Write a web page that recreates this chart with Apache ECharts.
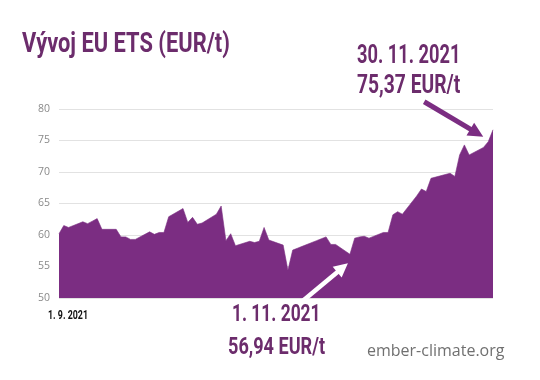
<!DOCTYPE html>
<html>
<head>
<meta charset="utf-8">
<script src="https://cdn.jsdelivr.net/npm/echarts@6/dist/echarts.min.js"></script>
<style>html,body{margin:0;padding:0;background:#fff;}#c{width:540px;height:380px;}</style>
</head>
<body>
<div id="c"></div>
<script>
// Trading days, 1. 9. 2021 – 1. 12. 2021
const dates = [
 '2021-09-01','2021-09-02','2021-09-03','2021-09-06','2021-09-07','2021-09-08','2021-09-09','2021-09-10',
 '2021-09-13','2021-09-14','2021-09-15','2021-09-16','2021-09-17','2021-09-20','2021-09-21','2021-09-22',
 '2021-09-23','2021-09-24','2021-09-27','2021-09-28','2021-09-29','2021-09-30','2021-10-01','2021-10-04',
 '2021-10-05','2021-10-06','2021-10-07','2021-10-08','2021-10-11','2021-10-12','2021-10-13','2021-10-14',
 '2021-10-15','2021-10-18','2021-10-19','2021-10-20','2021-10-21','2021-10-22','2021-10-25','2021-10-26',
 '2021-10-27','2021-10-28','2021-10-29','2021-11-01','2021-11-02','2021-11-03','2021-11-04','2021-11-05',
 '2021-11-08','2021-11-09','2021-11-10','2021-11-11','2021-11-12','2021-11-15','2021-11-16','2021-11-17',
 '2021-11-18','2021-11-19','2021-11-22','2021-11-23','2021-11-24','2021-11-25','2021-11-26','2021-11-29',
 '2021-11-30','2021-12-01'
];
// EU ETS price, EUR/t
const prices = [
 60.2, 61.5, 61.2, 62.1, 61.8, 62.2, 62.6, 60.9,
 60.9, 59.7, 59.7, 59.3, 59.3, 60.5, 60.1, 60.4,
 60.4, 62.9, 64.2, 62.0, 62.8, 61.7, 61.9, 63.3,
 64.6, 59.1, 60.2, 58.3, 59.0, 58.8, 59.0, 61.2,
 59.2, 58.4, 54.4, 57.6, 57.9, 58.2, 59.1, 59.4,
 59.7, 58.5, 58.5, 56.94, 59.5, 59.7, 59.8, 59.5,
 60.4, 60.4, 63.2, 63.7, 63.3, 66.2, 67.3, 66.9,
 69.0, 69.2, 69.8, 69.3, 72.7, 74.3, 72.7, 73.9,
 74.8, 76.7
];
const yTicks = [50, 55, 60, 65, 70, 75, 80];
const titleText = 'Vývoj EU ETS (EUR/t)';
const startLabel = '1. 9. 2021';
const lowDate = '1. 11. 2021', lowValue = '56,94 EUR/t';
const highDate = '30. 11. 2021', highValue = '75,37 EUR/t';
const sourceText = 'ember-climate.org';
const lowIndex = 43, highIndex = 64;

const PURPLE = '#7b2d82';
const TEXT_PURPLE = '#6c2c6c';

const chart = echarts.init(document.getElementById('c'), null, {renderer: 'canvas'});
chart.setOption({
  animation: false,
  backgroundColor: '#ffffff',
  grid: {left: 59, right: 47, top: 109, bottom: 82},
  xAxis: {
    type: 'time',
    min: dates[0],
    max: dates[dates.length - 1],
    axisLine: {show: false}, axisTick: {show: false},
    axisLabel: {show: false}, splitLine: {show: false}
  },
  yAxis: {
    type: 'value',
    min: yTicks[0], max: yTicks[yTicks.length - 1], interval: 5,
    axisLine: {show: false}, axisTick: {show: false},
    axisLabel: {color: '#8a8a8a', fontSize: 10.5, fontFamily: 'Open Sans', margin: 9},
    splitLine: {lineStyle: {color: '#e2e2e2', width: 1.2}}
  },
  series: [{
    type: 'line',
    data: dates.map((d, i) => [d, prices[i]]),
    showSymbol: false,
    symbol: 'none',
    lineStyle: {width: 0.6, color: PURPLE},
    areaStyle: {color: PURPLE, opacity: 1, origin: 'start'}
  }]
});

function txt(x, y, text, fs, color, weight, sx, family) {
  return {
    type: 'text', x: x, y: y, scaleX: sx, originX: 0, originY: 0, z: 100,
    style: {text: text, fontSize: fs, fontWeight: weight, fill: color,
            fontFamily: family || 'Roboto', textAlign: 'left', textVerticalAlign: 'middle'}
  };
}
function arrow(tip, tail, color, w, headLen, headW) {
  const dx = tip[0] - tail[0], dy = tip[1] - tail[1];
  const L = Math.sqrt(dx * dx + dy * dy), ux = dx / L, uy = dy / L;
  const bx = tip[0] - ux * headLen, by = tip[1] - uy * headLen;
  const px = -uy, py = ux;
  return [
    {type: 'line', z: 100, shape: {x1: tail[0], y1: tail[1], x2: bx + ux * 2, y2: by + uy * 2},
     style: {stroke: color, lineWidth: w}},
    {type: 'polygon', z: 100, shape: {points: [[tip[0], tip[1]],
       [bx + px * headW / 2, by + py * headW / 2], [bx - px * headW / 2, by - py * headW / 2]]},
     style: {fill: color}}
  ];
}

const pLow = chart.convertToPixel({seriesIndex: 0}, [dates[lowIndex], prices[lowIndex]]);
const pHigh = chart.convertToPixel({seriesIndex: 0}, [dates[highIndex], prices[highIndex]]);
const lowTip = [pLow[0] - 2, pLow[1] + 9];
const lowTail = [lowTip[0] - 48, lowTip[1] + 40];
const highTip = [pHigh[0] - 5, pHigh[1] - 5];
const highTail = [highTip[0] - 59, highTip[1] - 35];

chart.setOption({
  graphic: [
    txt(22, 45, titleText, 28, TEXT_PURPLE, 'bold', 0.78),
    txt(357, 57, highDate, 25, TEXT_PURPLE, 'bold', 0.73),
    txt(357, 87, highValue, 25, TEXT_PURPLE, 'bold', 0.77),
    txt(232, 315, lowDate, 23.5, TEXT_PURPLE, 'bold', 0.74),
    txt(228, 348, lowValue, 23.5, TEXT_PURPLE, 'bold', 0.77),
    txt(367, 351, sourceText, 16, '#707070', 'normal', 1, 'Open Sans'),
    txt(48, 315.5, startLabel, 13, '#111111', 'bold', 0.68)
  ].concat(arrow(lowTip, lowTail, '#ffffff', 4.5, 14, 14))
   .concat(arrow(highTip, highTail, PURPLE, 5, 15, 15))
});
</script>
</body>
</html>
